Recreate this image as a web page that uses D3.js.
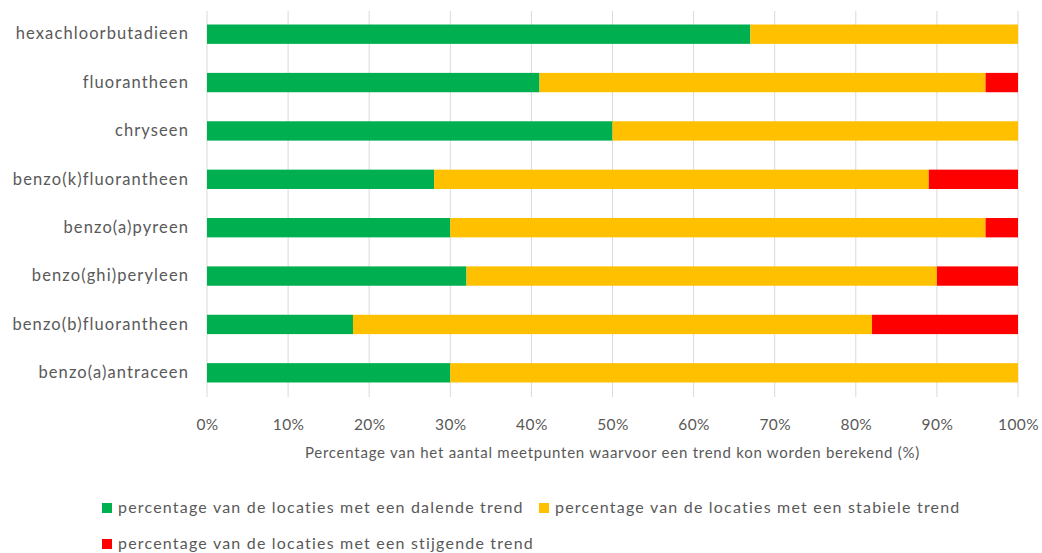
<!DOCTYPE html>
<html>
<head>
<meta charset="utf-8">
<script src="https://cdn.jsdelivr.net/npm/d3@7"></script>
<style>
    body { margin: 0; background: #fff; }
    text { font-family: Lato, "Noto Sans", sans-serif; fill: #595959; }
</style>
</head>
<body>
<div id="chart"></div>
<script>
'use strict';

// categories, top to bottom
let stoffen = [
    'hexachloorbutadieen',
    'fluorantheen',
    'chryseen',
    'benzo(k)fluorantheen',
    'benzo(a)pyreen',
    'benzo(ghi)peryleen',
    'benzo(b)fluorantheen',
    'benzo(a)antraceen'
];

// percentages per category
let dalend = [67, 41, 50, 28, 30, 32, 18, 30];
let stabiel = [33, 55, 50, 61, 66, 58, 64, 70];
let stijgend = [0, 4, 0, 11, 4, 10, 18, 0];

let seriesNames = [
    'percentage van de locaties met een dalende trend',
    'percentage van de locaties met een stabiele trend',
    'percentage van de locaties met een stijgende trend'
];
let seriesColors = ['#00B050', '#FFC000', '#FF0000'];

let xTicks = [0, 10, 20, 30, 40, 50, 60, 70, 80, 90, 100];
let axisTitle = 'Percentage van het aantal meetpunten waarvoor een trend kon worden berekend (%)';

let width = 1042,
    height = 553;
let margin = {top: 10, right: 24, bottom: 156, left: 207};

let svg = d3.select('#chart')
    .append('svg')
    .attr('width', width)
    .attr('height', height);

let x = d3.scaleLinear()
    .domain([0, 100])
    .range([margin.left, width - margin.right]);

let y = d3.scaleBand()
    .domain(stoffen)
    .range([margin.top, height - margin.bottom])
    .paddingInner(0.6)
    .paddingOuter(0.3);

// gridlines
svg.append('g')
    .selectAll('line')
    .data(xTicks)
    .enter().append('line')
    .attr('x1', function(d) { return x(d); })
    .attr('x2', function(d) { return x(d); })
    .attr('y1', margin.top + 1)
    .attr('y2', height - margin.bottom)
    .attr('stroke', '#d9d9d9')
    .attr('stroke-width', 1);

// stack the three series
let rows = stoffen.map(function(s, i) {
    return {stof: s, a: dalend[i], b: stabiel[i], c: stijgend[i]};
});
let stacked = d3.stack().keys(['a', 'b', 'c'])(rows);

svg.append('g')
    .selectAll('g')
    .data(stacked)
    .enter().append('g')
    .attr('fill', function(d, i) { return seriesColors[i]; })
    .selectAll('rect')
    .data(function(d) { return d; })
    .enter().append('rect')
    .attr('x', function(d) { return x(d[0]); })
    .attr('width', function(d) { return x(d[1]) - x(d[0]); })
    .attr('y', function(d) { return y(d.data.stof); })
    .attr('height', y.bandwidth());

// category labels
let yAxis = svg.append('g')
    .attr('transform', 'translate(' + margin.left + ',0)')
    .call(d3.axisLeft(y).tickSize(0).tickPadding(18));
yAxis.select('.domain').remove();
yAxis.selectAll('text')
    .style('font-size', '16.5px')
    .style('letter-spacing', '1.1px')
    .attr('fill', '#595959');

// x tick labels
let xAxis = svg.append('g')
    .attr('transform', 'translate(0,' + (height - margin.bottom) + ')')
    .call(d3.axisBottom(x).tickValues(xTicks).tickSize(0).tickPadding(22)
        .tickFormat(function(d) { return d + '%'; }));
xAxis.select('.domain').remove();
xAxis.selectAll('text')
    .style('font-size', '15.5px')
    .style('letter-spacing', '0.4px')
    .attr('fill', '#595959');

// axis title
svg.append('text')
    .attr('x', (x(0) + x(100)) / 2)
    .attr('y', 458)
    .attr('text-anchor', 'middle')
    .style('font-size', '15px')
    .style('letter-spacing', '0.75px')
    .text(axisTitle);

// legend
let legendPos = [[102, 508], [539, 508], [102, 544]];
let legend = svg.append('g')
    .selectAll('g')
    .data(seriesNames)
    .enter().append('g')
    .attr('transform', function(d, i) {
        return 'translate(' + legendPos[i][0] + ',' + legendPos[i][1] + ')';
    });
legend.append('rect')
    .attr('x', 0)
    .attr('y', -5)
    .attr('width', 10)
    .attr('height', 10)
    .attr('fill', function(d, i) { return seriesColors[i]; });
legend.append('text')
    .attr('x', 16)
    .attr('y', 5)
    .style('font-size', '16px')
    .style('letter-spacing', '1.2px')
    .text(function(d) { return d; });
</script>
</body>
</html>
